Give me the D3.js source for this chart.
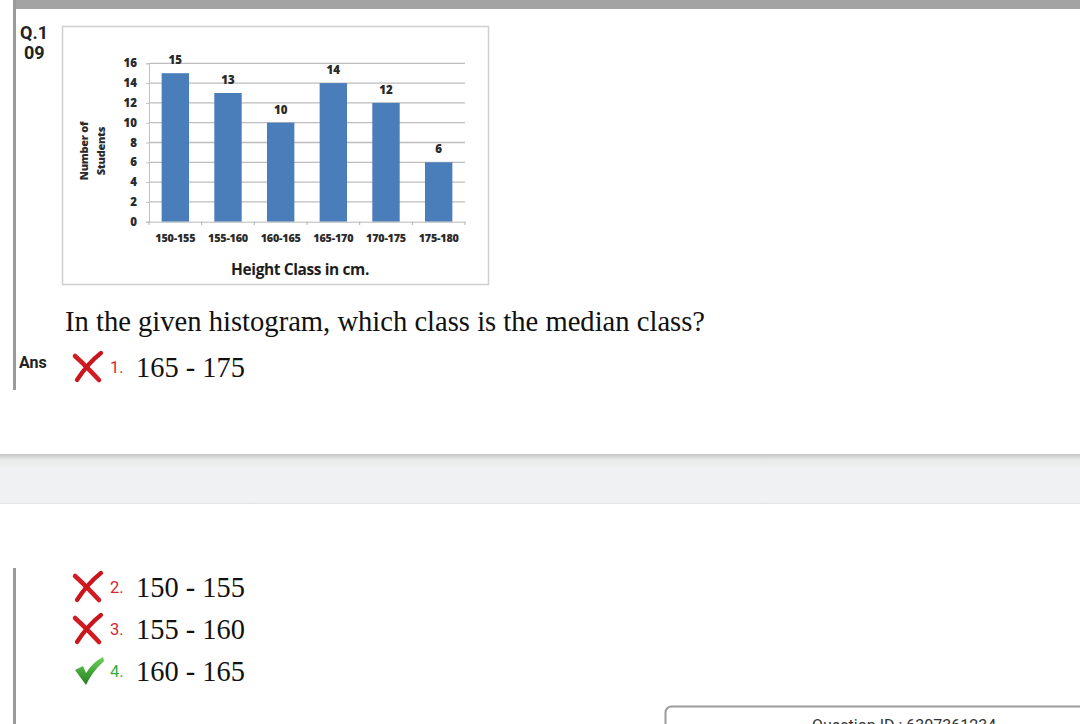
<!DOCTYPE html>
<html><head><meta charset="utf-8">
<script src="https://cdn.jsdelivr.net/npm/d3@7"></script>
<style>html,body{margin:0;padding:0;background:#fff;overflow:hidden}</style>
</head><body>
<svg id="c" width="1080" height="724"></svg>
<script>
const categories = ["150-155","155-160","160-165","165-170","170-175","175-180"];
const values = [15,13,10,14,12,6];
const yTicks = [0,2,4,6,8,10,12,14,16];
const yTitle = ["Number of", "Students"];
const xTitle = "Height Class in cm.";
const question = "In the given histogram, which class is the median class?";
const options = [
  {n:"1.", text:"165 - 175", ok:false},
  {n:"2.", text:"150 - 155", ok:false},
  {n:"3.", text:"155 - 160", ok:false},
  {n:"4.", text:"160 - 165", ok:true}
];

const svg = d3.select("#c");
const sans = "'Open Sans', Lato, sans-serif";
const serif = "'Liberation Serif', 'DejaVu Serif', serif";
const ui = "Roboto, 'Liberation Sans', Arial, sans-serif";

// page chrome
svg.append("rect").attr("x",13).attr("y",0).attr("width",1067).attr("height",9).attr("fill","#a3a3a3");
svg.append("rect").attr("x",13).attr("y",0).attr("width",3).attr("height",390).attr("fill","#9a9a9a");
svg.append("rect").attr("x",13).attr("y",568).attr("width",3).attr("height",160).attr("fill","#9a9a9a");
const defs = svg.append("defs");
const g0 = defs.append("linearGradient").attr("id","band").attr("x1",0).attr("x2",0).attr("y1",0).attr("y2",1);
g0.append("stop").attr("offset","0").attr("stop-color","#c4c6c6");
g0.append("stop").attr("offset","0.12").attr("stop-color","#e8ebea");
g0.append("stop").attr("offset","0.3").attr("stop-color","#f0f1f2");
g0.append("stop").attr("offset","0.97").attr("stop-color","#f0f1f3");
g0.append("stop").attr("offset","1").attr("stop-color","#dcdde0");
svg.append("rect").attr("x",0).attr("y",454).attr("width",1080).attr("height",50).attr("fill","url(#band)");
const gc = defs.append("linearGradient").attr("id","chk").attr("x1",0).attr("x2",0).attr("y1",0).attr("y2",1);
gc.append("stop").attr("offset","0").attr("stop-color","#6fcf5a");
gc.append("stop").attr("offset","1").attr("stop-color","#1f7f1f");

// Q number
svg.append("text").attr("x",20).attr("y",39).text("Q.1").attr("font-family",ui).attr("font-weight","bold").attr("font-size",18).attr("fill","#222");
svg.append("text").attr("x",24).attr("y",59).text("09").attr("font-family",ui).attr("font-weight","bold").attr("font-size",18).attr("fill","#222");

// chart box
svg.append("rect").attr("x",62.5).attr("y",26.5).attr("width",426).attr("height",258).attr("fill","#fff").attr("stroke","#cfcfcf").attr("stroke-width",1.5);

const x = d3.scaleBand().domain(categories).range([149,465]).paddingInner(0.48).paddingOuter(0.24);
const xb = d3.scaleBand().domain(categories).range([149,465]);
const y = d3.scaleLinear().domain([0,16]).range([221.7,63.3]);

const plot = svg.append("g");
plot.selectAll("line.grid").data(yTicks.filter(d=>d>0)).join("line")
  .attr("x1",149).attr("x2",465).attr("y1",d=>y(d)).attr("y2",d=>y(d))
  .attr("stroke","#bdbdbd").attr("stroke-width",1.3);
const ya = plot.append("g").attr("transform","translate(149,0)").call(d3.axisLeft(y).tickValues(yTicks).tickSize(3).tickPadding(9));
ya.select(".domain").attr("stroke","#c0c0c0");
ya.selectAll(".tick line").attr("stroke","#c0c0c0");
ya.selectAll("text").attr("font-family",sans).attr("font-weight","800").attr("font-size",11.5).attr("fill","#2a2a2a");
plot.selectAll("rect.bar").data(values).join("rect")
  .attr("x",(d,i)=>x(categories[i])).attr("width",x.bandwidth())
  .attr("y",d=>y(d)).attr("height",d=>y(0)-y(d)).attr("fill","#4a7ebb");
plot.selectAll("text.v").data(values).join("text")
  .attr("x",(d,i)=>x(categories[i])+x.bandwidth()/2).attr("y",d=>y(d)-9)
  .attr("text-anchor","middle").text(d=>d)
  .attr("font-family",sans).attr("font-weight","800").attr("font-size",11.5).attr("fill","#2a2a2a");
const xa = plot.append("g").attr("transform","translate(0,221.7)").call(d3.axisBottom(xb).tickSize(0).tickPadding(13));
xa.select(".domain").attr("stroke","#b8b8b8");
xa.selectAll("text").attr("font-family",sans).attr("font-weight","800").attr("font-size",10.8).attr("letter-spacing","-0.2").attr("fill","#2a2a2a");
plot.selectAll("line.xt").data(d3.range(categories.length+1)).join("line")
  .attr("x1",i=>149+i*xb.step()).attr("x2",i=>149+i*xb.step()).attr("y1",221.7).attr("y2",225)
  .attr("stroke","#b0b0b0");
svg.append("text").attr("x",300).attr("y",275).attr("text-anchor","middle").text(xTitle)
  .attr("font-family",sans).attr("font-weight","bold").attr("font-size",15.5).attr("letter-spacing","-0.4").attr("fill","#1e1e1e");
const yt = svg.append("text").attr("transform","translate(84,151) rotate(-90)").attr("text-anchor","middle")
  .attr("font-family",sans).attr("font-weight","800").attr("font-size",11).attr("letter-spacing","-0.3").attr("fill","#2a2a2a");
yt.selectAll("tspan").data(yTitle).join("tspan").attr("x",0).attr("dy",(d,i)=>i?17:4).text(d=>d);

// question
svg.append("text").attr("x",65).attr("y",331).text(question)
  .attr("font-family",serif).attr("font-size",28.6).attr("fill","#111");
svg.append("text").attr("x",19).attr("y",368).text("Ans")
  .attr("font-family",ui).attr("font-weight","bold").attr("font-size",16).attr("fill","#222");

function cross(g, cx, cy){
  g.append("path").attr("d",`M${cx-12},${cy-11} Q${cx-1},${cy-1} ${cx+12},${cy+13}`).attr("stroke","#d21c22").attr("stroke-width",4.5).attr("fill","none").attr("stroke-linecap","round");
  g.append("path").attr("d",`M${cx+14},${cy-14} Q${cx+1},${cy-4} ${cx-10},${cy+13}`).attr("stroke","#c9161c").attr("stroke-width",4.2).attr("fill","none").attr("stroke-linecap","round");
}
function check(g, cx, cy){
  g.append("path").attr("d",`M${cx-14},${cy-1} L${cx-6},${cy-5} L${cx-3},${cy+2} Q${cx+4},${cy-9} ${cx+14},${cy-14} L${cx+15},${cy-10} Q${cx+3},${cy+1} ${cx-3},${cy+14} Z`).attr("fill","url(#chk)");
}
const optY = [367, 587, 629, 671];
options.forEach((o,i)=>{
  const g = svg.append("g");
  const cy = optY[i];
  if(o.ok) check(g, 89, cy); else cross(g, 87, cy);
  g.append("text").attr("x",110).attr("y",cy+6).text(o.n).attr("font-family",ui)
    .attr("font-size",16.5).attr("fill",o.ok?"#3aab3a":"#d7262d");
  g.append("text").attr("x",136).attr("y",cy+10).text(o.text).attr("font-family",serif).attr("font-size",28.4).attr("fill","#111");
});

// bottom-right box
svg.append("rect").attr("x",665.5).attr("y",706.5).attr("width",430).attr("height",40).attr("rx",6)
  .attr("fill","#fff").attr("stroke","#9a9a9a").attr("stroke-width",2);
svg.append("text").attr("x",812).attr("y",731).text("Question ID : 6307361234")
  .attr("font-family",ui).attr("font-size",16).attr("fill","#333");
</script>
</body></html>
